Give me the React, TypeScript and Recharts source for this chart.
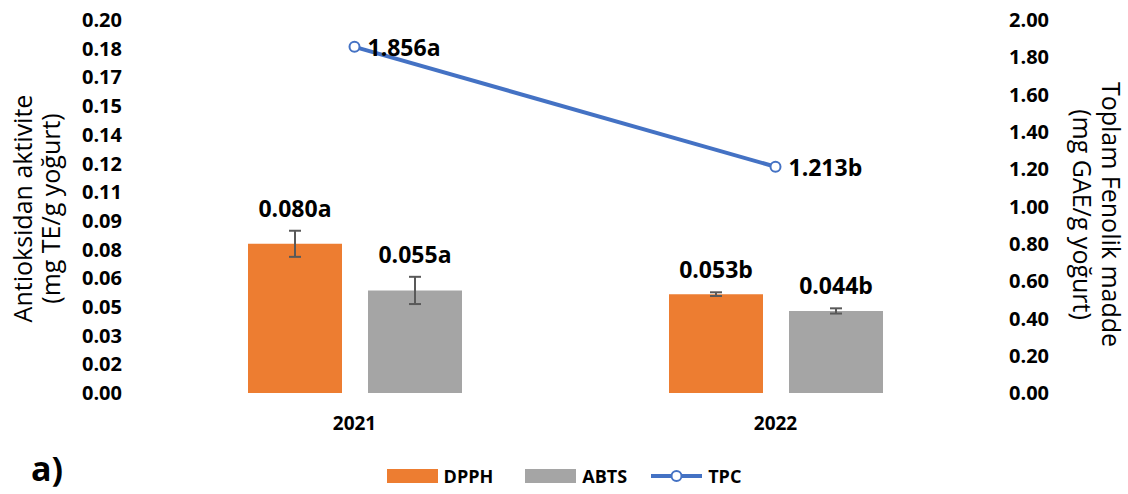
import React from 'react';
import { ComposedChart, Bar, Line, XAxis, YAxis, Legend, ErrorBar, LabelList } from 'recharts';

// Harvest years
const years = ['2021', '2022'];

// Antioxidant activity (mg TE/g yoğurt), left axis
const dpph = [0.08, 0.053];
const dpphErr = [0.007, 0.001];
const abts = [0.055, 0.044];
const abtsErr = [0.0073, 0.0014];

// Total phenolic content (mg GAE/g yoğurt), right axis
const tpc = [1.856, 1.213];
const tpcErr = [0.02, 0.02];

// Significance letters
const dpphGroup = ['a', 'b'];
const abtsGroup = ['a', 'b'];
const tpcGroup = ['a', 'b'];

// Axis ticks: the left axis is split into 13 equal steps, the right into 10
const LEFT_MAX = 0.2;
const LEFT_STEPS = 13;
const leftTicks = Array.from({ length: LEFT_STEPS + 1 }, (_, i) => (LEFT_MAX * i) / LEFT_STEPS);
const rightTicks = [0, 0.2, 0.4, 0.6, 0.8, 1.0, 1.2, 1.4, 1.6, 1.8, 2.0];

const ORANGE = '#ED7D31';
const GRAY = '#A5A5A5';
const BLUE = '#4472C4';
const ERR = '#595959';
const FONT = '"Open Sans", "Liberation Sans", sans-serif';

const data = years.map((year, i) => ({
  year,
  dpph: dpph[i],
  dpphErr: dpphErr[i],
  abts: abts[i],
  abtsErr: abtsErr[i],
  tpc: tpc[i],
  tpcErr: tpcErr[i],
}));

// Value label placed just above the top of the error bar
const barLabel = (errs: number[], groups: string[]) => (props: any) => {
  const x = Number(props.x);
  const y = Number(props.y);
  const width = Number(props.width);
  const height = Number(props.height);
  const value = Number(props.value);
  const index = props.index as number;
  const pxPerUnit = height / value;
  const top = y - errs[index] * pxPerUnit;
  return (
    <text
      x={x + width / 2}
      y={top - 14}
      textAnchor="middle"
      fontFamily={FONT}
      fontWeight={700}
      fontSize={23}
      fill="#000"
    >
      {value.toFixed(3) + groups[index]}
    </text>
  );
};

const lineLabel = (props: any) => {
  const x = Number(props.x);
  const y = Number(props.y);
  const value = Number(props.value);
  const index = props.index as number;
  return (
    <text
      x={x + 13}
      y={y}
      dominantBaseline="central"
      textAnchor="start"
      fontFamily={FONT}
      fontWeight={700}
      fontSize={23}
      fill="#000"
    >
      {value.toFixed(3) + tpcGroup[index]}
    </text>
  );
};

const leftTitle = (props: any) => {
  const vb = props.viewBox || {};
  const cy = Number(vb.y) + Number(vb.height) / 2 + 2;
  const lines = ['Antioksidan aktivite', '(mg TE/g yoğurt)'];
  const xs = [22, 50];
  return (
    <g>
      {lines.map((t, i) => (
        <text
          key={t}
          x={xs[i]}
          y={cy}
          transform={`rotate(-90 ${xs[i]} ${cy})`}
          textAnchor="middle"
          dominantBaseline="central"
          fontFamily={FONT}
          fontSize={25}
          fill="#000"
        >
          {t}
        </text>
      ))}
    </g>
  );
};

const rightTitle = (props: any) => {
  const vb = props.viewBox || {};
  const cy = Number(vb.y) + Number(vb.height) / 2 + 8;
  const x0 = Number(vb.x);
  const lines = ['Toplam Fenolik madde', '(mg GAE/g yoğurt)'];
  const xs = [x0 + 126, x0 + 97];
  return (
    <g>
      {lines.map((t, i) => (
        <text
          key={t}
          x={xs[i]}
          y={cy}
          transform={`rotate(90 ${xs[i]} ${cy})`}
          textAnchor="middle"
          dominantBaseline="central"
          fontFamily={FONT}
          fontSize={25}
          fill="#000"
        >
          {t}
        </text>
      ))}
    </g>
  );
};

const legendContent = () => {
  const item: React.CSSProperties = { display: 'flex', alignItems: 'center' };
  const label: React.CSSProperties = { marginLeft: 6 };
  return (
    <div
      style={{
        height: 50,
        boxSizing: 'border-box',
        paddingTop: 14,
        display: 'flex',
        justifyContent: 'center',
        alignItems: 'center',
        fontFamily: FONT,
        fontWeight: 700,
        fontSize: 18,
        color: '#000',
      }}
    >
      <div style={{ ...item, marginRight: 32 }}>
        <span style={{ width: 51, height: 14, background: ORANGE, display: 'inline-block' }} />
        <span style={label}>DPPH</span>
      </div>
      <div style={{ ...item, marginRight: 24 }}>
        <span style={{ width: 51, height: 14, background: GRAY, display: 'inline-block' }} />
        <span style={label}>ABTS</span>
      </div>
      <div style={item}>
        <svg width={51} height={14}>
          <line x1={0} y1={7} x2={51} y2={7} stroke={BLUE} strokeWidth={4} />
          <circle cx={25.5} cy={7} r={5} stroke={BLUE} strokeWidth={2} fill="#fff" />
        </svg>
        <span style={label}>TPC</span>
      </div>
    </div>
  );
};

export default function App() {
  const tickStyle = { fontFamily: FONT, fontSize: 20, fontWeight: 700, fill: '#000' };
  return (
    <div style={{ position: 'absolute', left: 0, top: 0, width: 1128, height: 494, background: '#fff' }}>
      <ComposedChart
        width={1128}
        height={494}
        data={data}
        margin={{ top: 20, right: 0, bottom: 0, left: 0 }}
        barGap={26}
      >
        <XAxis
          dataKey="year"
          height={51}
          tickLine={false}
          axisLine={false}
          tickSize={0}
          tickMargin={24}
          tick={{ ...tickStyle, fontSize: 19 }}
        />
        <YAxis
          yAxisId="left"
          orientation="left"
          width={144}
          domain={[0, LEFT_MAX]}
          ticks={leftTicks}
          interval={0}
          tickFormatter={(v: number) => v.toFixed(2)}
          tickLine={false}
          axisLine={false}
          tickSize={0}
          tickMargin={22}
          tick={tickStyle}
          label={{ content: leftTitle }}
        />
        <YAxis
          yAxisId="right"
          orientation="right"
          width={142}
          domain={[0, 2]}
          ticks={rightTicks}
          interval={0}
          tickFormatter={(v: number) => v.toFixed(2)}
          tickLine={false}
          axisLine={false}
          tickSize={0}
          tickMargin={23}
          tick={tickStyle}
          label={{ content: rightTitle }}
        />
        <Legend verticalAlign="bottom" content={legendContent} />
        <Bar yAxisId="left" dataKey="dpph" name="DPPH" fill={ORANGE} barSize={94} isAnimationActive={false}>
          <ErrorBar dataKey="dpphErr" width={6} stroke={ERR} strokeWidth={2} direction="y" />
          <LabelList dataKey="dpph" content={barLabel(dpphErr, dpphGroup)} />
        </Bar>
        <Bar yAxisId="left" dataKey="abts" name="ABTS" fill={GRAY} barSize={94} isAnimationActive={false}>
          <ErrorBar dataKey="abtsErr" width={6} stroke={ERR} strokeWidth={2} direction="y" />
          <LabelList dataKey="abts" content={barLabel(abtsErr, abtsGroup)} />
        </Bar>
        <Line
          yAxisId="right"
          dataKey="tpc"
          name="TPC"
          stroke={BLUE}
          strokeWidth={4}
          dot={{ r: 5, stroke: BLUE, strokeWidth: 2, fill: '#fff' }}
          isAnimationActive={false}
        >
          <ErrorBar dataKey="tpcErr" width={3} stroke={ERR} strokeWidth={2} direction="y" />
          <LabelList dataKey="tpc" content={lineLabel} />
        </Line>
      </ComposedChart>
      <div
        style={{
          position: 'absolute',
          left: 31,
          top: 451,
          fontFamily: FONT,
          fontWeight: 700,
          fontSize: 34,
          lineHeight: 1,
          color: '#000',
        }}
      >
        a)
      </div>
    </div>
  );
}
